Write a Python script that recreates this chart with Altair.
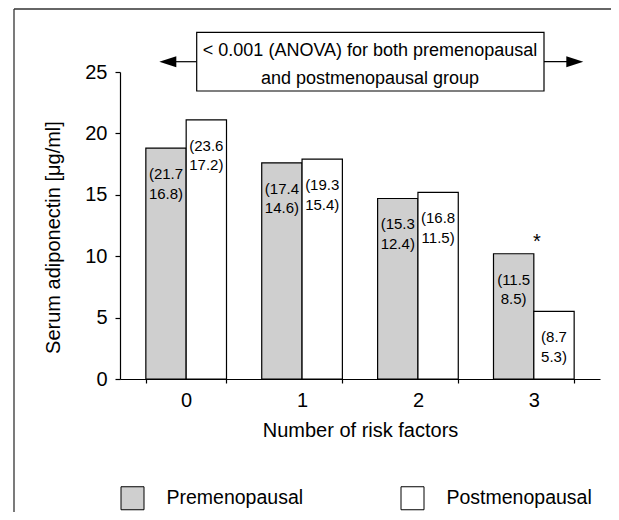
import altair as alt
import pandas as pd

# ---- data ----
categories = ["0", "1", "2", "3"]
groups = ["Premenopausal", "Postmenopausal"]
pre_values = [18.8, 17.6, 14.7, 10.2]
post_values = [21.1, 17.9, 15.2, 5.5]
pre_ci = ["(21.7\n16.8)", "(17.4\n14.6)", "(15.3\n12.4)", "(11.5\n8.5)"]
post_ci = ["(23.6\n17.2)", "(19.3\n15.4)", "(16.8\n11.5)", "(8.7\n5.3)"]
y_ticks = [0, 5, 10, 15, 20, 25]
star_category = "3"
annotation = "< 0.001 (ANOVA) for both premenopausal\nand postmenopausal group"

rows = []
for c, v, ci in zip(categories, pre_values, pre_ci):
    rows.append({"cat": c, "group": groups[0], "value": v, "ci": ci})
for c, v, ci in zip(categories, post_values, post_ci):
    rows.append({"cat": c, "group": groups[1], "value": v, "ci": ci})
df = pd.DataFrame(rows)
star_df = df[(df["cat"] == star_category) & (df["group"] == groups[0])]

FONT = "Liberation Sans, Arial, sans-serif"

x_enc = alt.X("cat:N", sort=categories,
              scale=alt.Scale(paddingInner=0.304, paddingOuter=0.223),
              axis=alt.Axis(title="Number of risk factors", labelAngle=0,
                            tickBand="extent", tickSize=4, labelPadding=7,
                            titlePadding=10))
xo_enc = alt.XOffset("group:N", sort=groups, scale=alt.Scale(domain=groups, paddingInner=0, paddingOuter=0))
y_enc = alt.Y("value:Q", scale=alt.Scale(domain=[0, 25], nice=False),
              axis=alt.Axis(title="Serum adiponectin [μg/ml]", values=y_ticks,
                            tickSize=5, labelPadding=8, titlePadding=21,
                            titleY=165))

bars = alt.Chart(df).mark_bar(stroke="black", strokeWidth=1.2).encode(
    x=x_enc, xOffset=xo_enc, y=y_enc,
    fill=alt.Fill("group:N", sort=groups,
                  scale=alt.Scale(domain=groups, range=["#cfcfcf", "#ffffff"]),
                  legend=alt.Legend(title=None, orient="none", legendX=0.5, legendY=414,
                                    direction="horizontal", columns=2,
                                    symbolType="square", symbolSize=529,
                                    symbolStrokeColor="black", symbolStrokeWidth=1,
                                    labelFontSize=19.5, labelOffset=22,
                                    columnPadding=95, padding=0)),
)

labels = alt.Chart(df).mark_text(lineBreak="\n", fontSize=15, lineHeight=19.5,
                                 baseline="middle", dy=26, color="black").encode(
    x=alt.X("cat:N", sort=categories), xOffset=alt.XOffset("group:N", sort=groups),
    y="value:Q", text="ci:N")

star = alt.Chart(star_df).mark_text(text="*", fontSize=20, baseline="middle",
                                    dy=-12, dx=3, color="black").encode(
    x=alt.X("cat:N", sort=categories), y="value:Q")

one = alt.Data(values=[{"d": 0}])

frame_left = alt.Chart(one).mark_rule(color="#333333", strokeWidth=1.3).encode(
    x=alt.value(-106), y=alt.value(-63), y2=alt.value(460))
frame_top = alt.Chart(one).mark_rule(color="#333333", strokeWidth=1.3).encode(
    x=alt.value(-106), x2=alt.value(520), y=alt.value(-63))

box = alt.Chart(one).mark_rect(fill="white", stroke="black", strokeWidth=1.2).encode(
    x=alt.value(76.7), x2=alt.value(424), y=alt.value(-39.7), y2=alt.value(19))
arrow_l = alt.Chart(one).mark_rule(color="black", strokeWidth=1.2).encode(
    x=alt.value(45), x2=alt.value(76.7), y=alt.value(-10.3))
arrow_r = alt.Chart(one).mark_rule(color="black", strokeWidth=1.2).encode(
    x=alt.value(424), x2=alt.value(457), y=alt.value(-10.3))
head_l = alt.Chart(one).mark_point(shape="M -1,0 L 1,-0.65 L 1,0.65 Z", size=289,
                                   filled=True, color="black", opacity=1).encode(
    x=alt.value(47.8), y=alt.value(-10.3))
head_r = alt.Chart(one).mark_point(shape="M 1,0 L -1,-0.65 L -1,0.65 Z", size=289,
                                   filled=True, color="black", opacity=1).encode(
    x=alt.value(454.8), y=alt.value(-10.3))
ann_text = alt.Chart(one).mark_text(text=annotation, lineBreak="\n", fontSize=18,
                                    lineHeight=28, baseline="middle", align="center",
                                    color="black").encode(
    x=alt.value(250), y=alt.value(-21.5))

chart = alt.layer(
    frame_left, frame_top, bars, labels, star,
    arrow_l, arrow_r, head_l, head_r, box, ann_text
).properties(
    width=480, height=307,
    autosize=alt.AutoSizeParams(type="none"),
    padding={"left": 112, "top": 64, "right": 11, "bottom": 133},
).configure(font=FONT).configure_view(stroke=None).configure_axis(
    domainColor="black", domainWidth=1.2, tickColor="black", tickWidth=1.2,
    labelColor="black", titleColor="black", labelFontSize=20, titleFontSize=20,
    labelFont=FONT, titleFont=FONT, titleFontWeight="normal", grid=False,
).configure_legend(labelFont=FONT, labelColor="black")

chart.save("out.html", embed_options={"renderer": "svg", "actions": False})
